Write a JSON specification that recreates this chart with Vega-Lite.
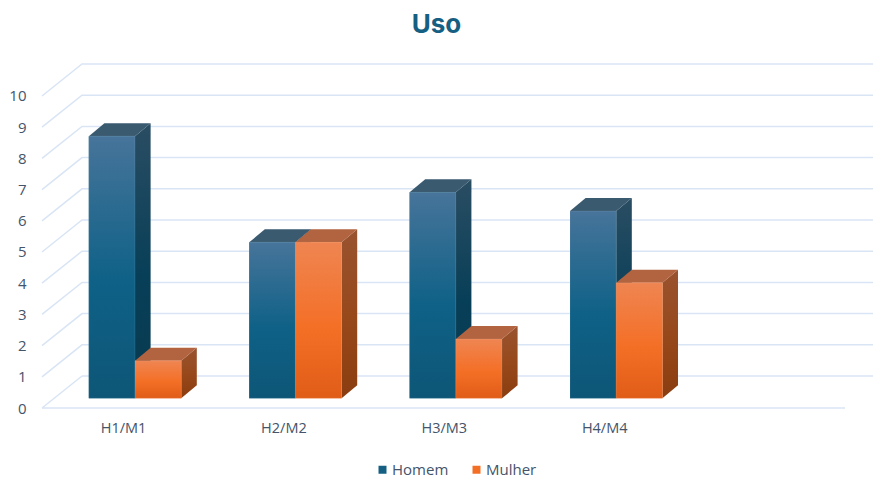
{"$schema":"https://vega.github.io/schema/vega-lite/v6.json","width":839,"height":358,"autosize":"none","padding":{"left":34,"top":50,"right":0,"bottom":71},"background":"white",
"title":{"text":"Uso","font":"Inter","fontSize":26,"fontWeight":"bold","color":"#156082","anchor":"middle","frame":"group","dx":-17,"offset":12},
"config":{"view":{"stroke":null}},
"datasets":{
"grade":[
{"linha":"v0","x":-0.3304,"y":1.0256,"o":1},{"linha":"v0","x":4.601,"y":1.0256,"o":2},
{"linha":"piso","x":-0.5798,"y":0,"o":1},{"linha":"piso","x":4.4264,"y":0,"o":2},
{"linha":"lado0","x":-0.5798,"y":0,"o":1},{"linha":"lado0","x":-0.3304,"y":1.0256,"o":2},
{"linha":"v1","x":-0.5798,"y":1,"o":1},{"linha":"v1","x":-0.3304,"y":2.0256,"o":2},{"linha":"v1","x":4.601,"y":2.0256,"o":3},
{"linha":"v2","x":-0.5798,"y":2,"o":1},{"linha":"v2","x":-0.3304,"y":3.0256,"o":2},{"linha":"v2","x":4.601,"y":3.0256,"o":3},
{"linha":"v3","x":-0.5798,"y":3,"o":1},{"linha":"v3","x":-0.3304,"y":4.0256,"o":2},{"linha":"v3","x":4.601,"y":4.0256,"o":3},
{"linha":"v4","x":-0.5798,"y":4,"o":1},{"linha":"v4","x":-0.3304,"y":5.0256,"o":2},{"linha":"v4","x":4.601,"y":5.0256,"o":3},
{"linha":"v5","x":-0.5798,"y":5,"o":1},{"linha":"v5","x":-0.3304,"y":6.0256,"o":2},{"linha":"v5","x":4.601,"y":6.0256,"o":3},
{"linha":"v6","x":-0.5798,"y":6,"o":1},{"linha":"v6","x":-0.3304,"y":7.0256,"o":2},{"linha":"v6","x":4.601,"y":7.0256,"o":3},
{"linha":"v7","x":-0.5798,"y":7,"o":1},{"linha":"v7","x":-0.3304,"y":8.0256,"o":2},{"linha":"v7","x":4.601,"y":8.0256,"o":3},
{"linha":"v8","x":-0.5798,"y":8,"o":1},{"linha":"v8","x":-0.3304,"y":9.0256,"o":2},{"linha":"v8","x":4.601,"y":9.0256,"o":3},
{"linha":"v9","x":-0.5798,"y":9,"o":1},{"linha":"v9","x":-0.3304,"y":10.0256,"o":2},{"linha":"v9","x":4.601,"y":10.0256,"o":3},
{"linha":"v10","x":-0.5798,"y":10,"o":1},{"linha":"v10","x":-0.3304,"y":11.0256,"o":2},{"linha":"v10","x":4.601,"y":11.0256,"o":3}
],
"lados":[
{"id":"H1","serie":"Homem","x":0,"topo":8.4,"base":0},{"id":"H1","serie":"Homem","x":0.0973,"topo":8.8167,"base":0.4167},
{"id":"H2","serie":"Homem","x":1,"topo":5,"base":0},{"id":"H2","serie":"Homem","x":1.0973,"topo":5.4167,"base":0.4167},
{"id":"H3","serie":"Homem","x":2,"topo":6.6,"base":0},{"id":"H3","serie":"Homem","x":2.0973,"topo":7.0167,"base":0.4167},
{"id":"H4","serie":"Homem","x":3,"topo":6,"base":0},{"id":"H4","serie":"Homem","x":3.0973,"topo":6.4167,"base":0.4167},
{"id":"M1","serie":"Mulher","x":0.288,"topo":1.2,"base":0},{"id":"M1","serie":"Mulher","x":0.3853,"topo":1.6167,"base":0.4167},
{"id":"M2","serie":"Mulher","x":1.288,"topo":5,"base":0},{"id":"M2","serie":"Mulher","x":1.3853,"topo":5.4167,"base":0.4167},
{"id":"M3","serie":"Mulher","x":2.288,"topo":1.9,"base":0},{"id":"M3","serie":"Mulher","x":2.3853,"topo":2.3167,"base":0.4167},
{"id":"M4","serie":"Mulher","x":3.288,"topo":3.7,"base":0},{"id":"M4","serie":"Mulher","x":3.3853,"topo":4.1167,"base":0.4167}
],
"topos":[
{"id":"H1","serie":"Homem","y":8.4,"xa":-0.288,"xb":0},{"id":"H1","serie":"Homem","y":8.8167,"xa":-0.1907,"xb":0.0973},
{"id":"H2","serie":"Homem","y":5,"xa":0.712,"xb":1},{"id":"H2","serie":"Homem","y":5.4167,"xa":0.8093,"xb":1.0973},
{"id":"H3","serie":"Homem","y":6.6,"xa":1.712,"xb":2},{"id":"H3","serie":"Homem","y":7.0167,"xa":1.8093,"xb":2.0973},
{"id":"H4","serie":"Homem","y":6,"xa":2.712,"xb":3},{"id":"H4","serie":"Homem","y":6.4167,"xa":2.8093,"xb":3.0973},
{"id":"M1","serie":"Mulher","y":1.2,"xa":0,"xb":0.288},{"id":"M1","serie":"Mulher","y":1.6167,"xa":0.0973,"xb":0.3853},
{"id":"M2","serie":"Mulher","y":5,"xa":1,"xb":1.288},{"id":"M2","serie":"Mulher","y":5.4167,"xa":1.0973,"xb":1.3853},
{"id":"M3","serie":"Mulher","y":1.9,"xa":2,"xb":2.288},{"id":"M3","serie":"Mulher","y":2.3167,"xa":2.0973,"xb":2.3853},
{"id":"M4","serie":"Mulher","y":3.7,"xa":3,"xb":3.288},{"id":"M4","serie":"Mulher","y":4.1167,"xa":3.0973,"xb":3.3853}
],
"barras":[
{"grupo":"H1/M1","serie":"Homem","x0":-0.288,"x1":0,"valor":8.4},{"grupo":"H2/M2","serie":"Homem","x0":0.712,"x1":1,"valor":5},{"grupo":"H3/M3","serie":"Homem","x0":1.712,"x1":2,"valor":6.6},{"grupo":"H4/M4","serie":"Homem","x0":2.712,"x1":3,"valor":6},
{"grupo":"H1/M1","serie":"Mulher","x0":0,"x1":0.288,"valor":1.2},{"grupo":"H2/M2","serie":"Mulher","x0":1,"x1":1.288,"valor":5},{"grupo":"H3/M3","serie":"Mulher","x0":2,"x1":2.288,"valor":1.9},{"grupo":"H4/M4","serie":"Mulher","x0":3,"x1":3.288,"valor":3.7}
]},
"resolve":{"scale":{"y":"independent"}},
"layer":[
{"data":{"name":"grade"},"mark":{"type":"line","color":"#d9e5f5","strokeWidth":1.5,"interpolate":"linear"},
"encoding":{
"x":{"field":"x","type":"quantitative","scale":{"domain":[-0.6297,4.601],"nice":false,"zero":false},"title":null,"axis":{"values":[0,1,2,3],"labelExpr":"['H1/M1','H2/M2','H3/M3','H4/M4'][datum.value]","labelOffset":-12,"labelPadding":13,"domain":false,"ticks":false,"grid":false,"labelFont":"Open Sans","labelFontSize":14.5,"labelColor":"#44546a"}},
"y":{"field":"y","type":"quantitative","scale":{"domain":[0,11.474],"nice":false,"zero":false},"title":null,"axis":{"values":[0,1,2,3,4,5,6,7,8,9,10],"format":"d","domain":false,"ticks":false,"grid":false,"labelPadding":8,"labelFont":"Open Sans","labelFontSize":15,"labelColor":"#44546a"}},
"detail":{"field":"linha"},"order":{"field":"o"}}},
{"data":{"name":"lados"},"mark":{"type":"area","orient":"vertical"},
"encoding":{
"x":{"field":"x","type":"quantitative"},
"y":{"field":"topo","type":"quantitative","scale":{"domain":[-0.311,11.163],"nice":false,"zero":false},"axis":null},
"y2":{"field":"base"},
"detail":{"field":"id"},
"fill":{"condition":{"test":"datum.serie==='Homem'","value":{"gradient":"linear","x1":0,"y1":0,"x2":0,"y2":1,"stops":[{"offset":0,"color":"#2a4d63"},{"offset":0.55,"color":"#083f58"},{"offset":1,"color":"#073a50"}]}},"value":{"gradient":"linear","x1":0,"y1":0,"x2":0,"y2":1,"stops":[{"offset":0,"color":"#99532f"},{"offset":0.55,"color":"#97481a"},{"offset":1,"color":"#8a3d10"}]}}}},
{"data":{"name":"topos"},"mark":{"type":"area","orient":"horizontal"},
"encoding":{
"y":{"field":"y","type":"quantitative","scale":{"domain":[-0.311,11.163],"nice":false,"zero":false},"axis":null},
"x":{"field":"xa","type":"quantitative"},
"x2":{"field":"xb"},
"detail":{"field":"id"},
"fill":{"condition":{"test":"datum.serie==='Homem'","value":"#3a5a70"},"value":"#b2633f"}}},
{"data":{"name":"barras"},"mark":{"type":"rect"},
"encoding":{
"x":{"field":"x0","type":"quantitative"},
"x2":{"field":"x1"},
"y":{"field":"valor","type":"quantitative","scale":{"domain":[-0.311,11.163],"nice":false,"zero":false},"axis":null},
"y2":{"datum":0},
"color":{"field":"serie","type":"nominal","scale":{"domain":["Homem","Mulher"],"range":["#156082","#f46f26"]},
"legend":{"title":null,"orient":"none","legendX":341,"legendY":412,"direction":"horizontal","symbolType":"square","symbolSize":64,"labelFont":"Open Sans","labelFontSize":15,"labelOffset":2,"labelColor":"#44546a","columnPadding":20,"symbolStrokeWidth":0}}}},
{"data":{"name":"barras"},"mark":{"type":"rect","stroke":"#ffffff","strokeWidth":0.4,"strokeOpacity":0.25},
"encoding":{
"x":{"field":"x0","type":"quantitative"},
"x2":{"field":"x1"},
"y":{"field":"valor","type":"quantitative","scale":{"domain":[-0.311,11.163],"nice":false,"zero":false},"axis":null},
"y2":{"datum":0},
"fill":{"condition":{"test":"datum.serie==='Homem'","value":{"gradient":"linear","x1":0,"y1":0,"x2":0,"y2":1,"stops":[{"offset":0,"color":"#47749a"},{"offset":0.55,"color":"#0f6187"},{"offset":1,"color":"#0d5677"}]}},"value":{"gradient":"linear","x1":0,"y1":0,"x2":0,"y2":1,"stops":[{"offset":0,"color":"#ef8552"},{"offset":0.55,"color":"#f46f26"},{"offset":1,"color":"#e05d18"}]}}}}
]}
